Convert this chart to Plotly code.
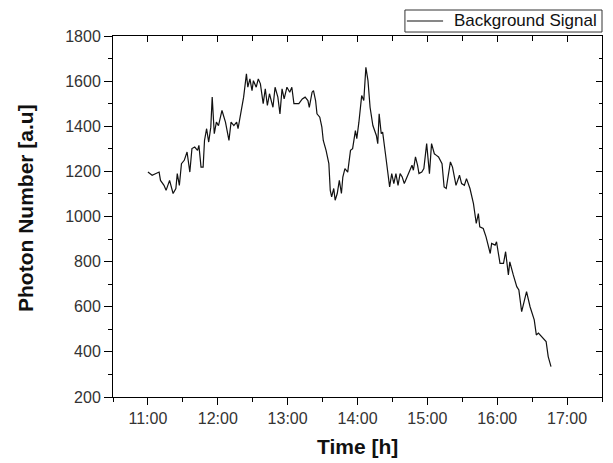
import plotly.graph_objects as go

# Time in decimal hours, photon number in a.u.
time_h = [11.00, 11.06, 11.16, 11.18, 11.23, 11.26, 11.31, 11.36, 11.40, 11.42,
          11.45, 11.48, 11.52, 11.56, 11.60, 11.63, 11.67, 11.71, 11.73, 11.76,
          11.79, 11.81, 11.84, 11.87, 11.90, 11.92, 11.95, 11.98, 12.01, 12.06,
          12.11, 12.16, 12.19, 12.23, 12.27, 12.29, 12.34, 12.37, 12.41, 12.43,
          12.46, 12.49, 12.51, 12.55, 12.58, 12.61, 12.65, 12.68, 12.71, 12.74,
          12.79, 12.82, 12.86, 12.89, 12.92, 12.95, 12.99, 13.03, 13.06, 13.09,
          13.16, 13.21, 13.25, 13.29, 13.31, 13.35, 13.37, 13.40, 13.42, 13.46,
          13.49, 13.51, 13.55, 13.59, 13.61, 13.63, 13.66, 13.68, 13.71, 13.74,
          13.77, 13.79, 13.82, 13.86, 13.90, 13.93, 13.97, 13.99, 14.02, 14.06,
          14.09, 14.12, 14.15, 14.18, 14.22, 14.27, 14.29, 14.31, 14.34, 14.36,
          14.40, 14.43, 14.46, 14.49, 14.52, 14.55, 14.58, 14.61, 14.64, 14.67,
          14.71, 14.74, 14.78, 14.80, 14.83, 14.86, 14.88, 14.92, 14.95, 14.99,
          15.03, 15.06, 15.10, 15.13, 15.16, 15.21, 15.24, 15.27, 15.33, 15.36,
          15.41, 15.46, 15.49, 15.53, 15.56, 15.61, 15.66, 15.70, 15.73, 15.75,
          15.80, 15.84, 15.90, 15.92, 15.97, 15.99, 16.04, 16.09, 16.12, 16.16,
          16.18, 16.23, 16.28, 16.31, 16.35, 16.42, 16.47, 16.53, 16.56, 16.59,
          16.63, 16.67, 16.70, 16.73, 16.77]
photons = [1197, 1183, 1197, 1160, 1138, 1116, 1160, 1102, 1124, 1190,
           1138, 1234, 1249, 1286, 1197, 1301, 1308, 1293, 1315, 1219,
           1219, 1337, 1389, 1330, 1396, 1529, 1367, 1418, 1403, 1470,
           1418, 1337, 1418, 1403, 1418, 1389, 1477, 1529, 1632, 1573,
           1610, 1558, 1602, 1573, 1610, 1588, 1500, 1566, 1492, 1544,
           1484, 1573, 1529, 1455, 1566, 1521, 1573, 1551, 1573, 1500,
           1500, 1521, 1529, 1514, 1484, 1551, 1558, 1514, 1455, 1440,
           1396, 1337, 1293, 1234, 1116, 1087, 1124, 1072, 1102, 1160,
           1102, 1175, 1212, 1197, 1293, 1301, 1381, 1345, 1418, 1536,
           1514, 1661, 1602, 1484, 1403, 1359, 1323, 1455, 1367, 1374,
           1278, 1205, 1131, 1190, 1146, 1190, 1138, 1190, 1175, 1146,
           1175, 1205, 1227, 1205, 1264, 1227, 1190, 1197, 1212, 1323,
           1190, 1323, 1278, 1271, 1264, 1234, 1131, 1124, 1242, 1219,
           1138, 1183, 1146, 1138, 1168, 1124, 1057, 969, 1013, 954,
           947, 910, 836, 881, 873, 888, 792, 792, 844, 741,
           799, 741, 689, 674, 578, 667, 600, 542, 475, 483,
           468, 453, 446, 379, 335]

x_tick_vals = [11, 12, 13, 14, 15, 16, 17]
x_tick_text = ["11:00", "12:00", "13:00", "14:00", "15:00", "16:00", "17:00"]
x_range = [10.5, 17.5]
y_range = [200, 1800]
series_name = "Background Signal"
line_color = "#111111"

fig = go.Figure()
fig.add_trace(go.Scatter(x=time_h, y=photons, mode="lines", name=series_name,
                         line=dict(color=line_color, width=1.2), showlegend=False))
# companion trace so the top/right frame axes render
fig.add_trace(go.Scatter(x=time_h, y=photons, mode="lines", xaxis="x2", yaxis="y2",
                         line=dict(color="rgba(0,0,0,0)", width=0), showlegend=False,
                         hoverinfo="skip"))

font_family = "Liberation Sans, Arial, sans-serif"
tick_font = dict(family=font_family, size=16, color="#333333")

# Legend box drawn in paper coordinates (Origin-style compact legend)
legend_shapes = [
    dict(type="rect", xref="paper", yref="paper", x0=0.597, x1=1.0, y0=1.011, y1=1.072,
         line=dict(color="#333333", width=1), fillcolor="white", layer="above"),
    dict(type="line", xref="paper", yref="paper", x0=0.601, x1=0.675, y0=1.0416, y1=1.0416,
         line=dict(color=line_color, width=1.2), layer="above"),
]

fig.update_layout(
    width=613, height=463,
    margin=dict(l=113, r=11, t=36, b=66),
    paper_bgcolor="white", plot_bgcolor="white",
    showlegend=False,
    shapes=legend_shapes,
    xaxis=dict(range=x_range, tickmode="array", tickvals=x_tick_vals, ticktext=x_tick_text,
               showgrid=False, zeroline=False, showline=True, linecolor="black", linewidth=1,
               ticks="outside", ticklen=7, tickcolor="black", tickwidth=1, tickfont=tick_font,
               minor=dict(tickmode="linear", tick0=10.5, dtick=0.5, ticks="outside",
                          ticklen=4, tickcolor="black", showgrid=False)),
    yaxis=dict(range=y_range, tickmode="linear", tick0=200, dtick=200,
               showgrid=False, zeroline=False, showline=True, linecolor="black", linewidth=1,
               ticks="outside", ticklen=8, tickcolor="black", tickwidth=1, tickfont=tick_font,
               minor=dict(tickmode="linear", tick0=200, dtick=100, ticks="outside",
                          ticklen=4, tickcolor="black", showgrid=False)),
    xaxis2=dict(range=x_range, overlaying="x", side="top", anchor="y2",
                tickmode="array", tickvals=x_tick_vals, showticklabels=False,
                showgrid=False, zeroline=False, showline=True, linecolor="black", linewidth=1,
                ticks="inside", ticklen=6, tickcolor="black",
                minor=dict(tickmode="linear", tick0=10.5, dtick=0.5, ticks="inside",
                           ticklen=5, tickcolor="black", showgrid=False)),
    yaxis2=dict(range=y_range, overlaying="y", side="right", anchor="x2",
                tickmode="linear", tick0=200, dtick=200, showticklabels=False,
                showgrid=False, zeroline=False, showline=True, linecolor="black", linewidth=1,
                ticks="inside", ticklen=6, tickcolor="black",
                minor=dict(tickmode="linear", tick0=200, dtick=100, ticks="inside",
                           ticklen=3, tickcolor="black", showgrid=False)),
    annotations=[
        dict(text=series_name, xref="paper", yref="paper", x=0.693, y=1.0416,
             xanchor="left", yanchor="middle", showarrow=False,
             font=dict(family=font_family, size=17, color="#111111")),
        dict(text="<b>Time [h]</b>", xref="paper", yref="paper", x=0.5, y=-0.1385,
             xanchor="center", yanchor="middle", showarrow=False,
             font=dict(family=font_family, size=21, color="#111111")),
        dict(text="<b>Photon Number [a.u]</b>", xref="paper", yref="paper", x=-0.18, y=0.5235,
             xanchor="center", yanchor="middle", textangle=-90, showarrow=False,
             font=dict(family=font_family, size=21, color="#111111")),
    ],
)

fig.write_html("out.html")
